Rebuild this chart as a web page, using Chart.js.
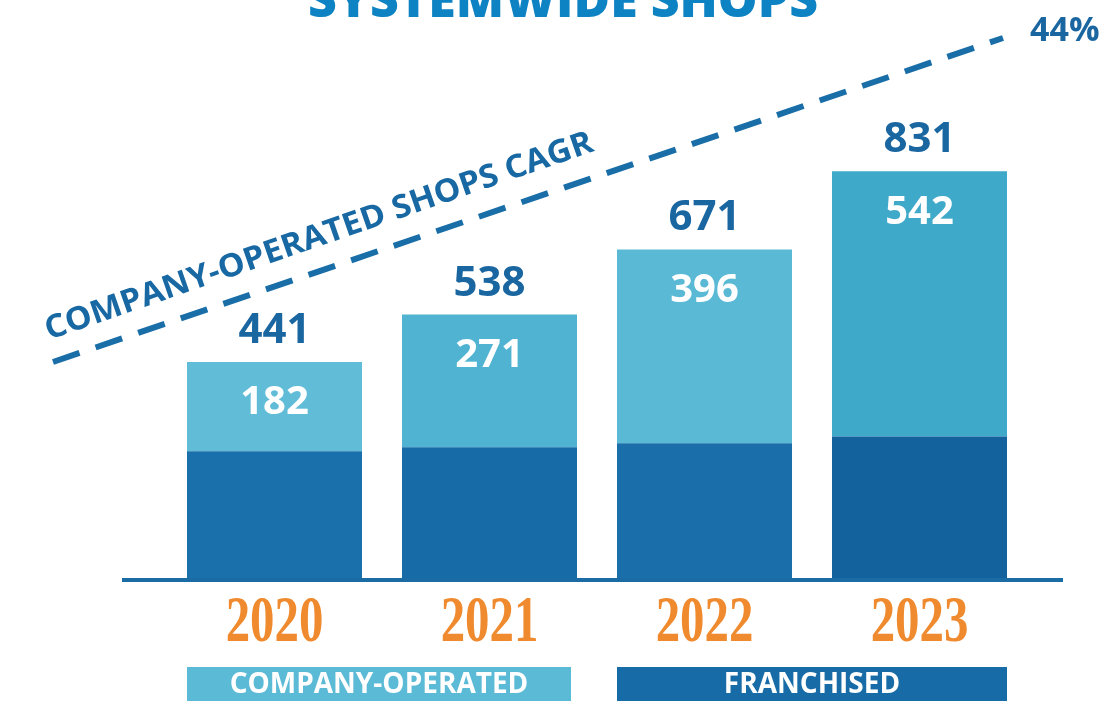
<!DOCTYPE html>
<html>
<head>
<meta charset="utf-8">
<script src="https://cdn.jsdelivr.net/npm/chart.js@4.4.0/dist/chart.umd.min.js"></script>
<style>
  html, body { margin: 0; padding: 0; background: #ffffff; }
  #shops { display: block; }
</style>
</head>
<body>
<canvas id="shops" width="1108" height="703"></canvas>
<script>
const years = ['2020', '2021', '2022', '2023'];
const companyOperated = [182, 271, 396, 542];
const franchised = [259, 267, 275, 289];
const cagrLabel = '44%';

const companyColors = ['#60bcd7', '#50b3d1', '#5ab9d5', '#3fa9c9'];
const franchisedColors = ['#1a70ab', '#176ca7', '#1a6fab', '#13629d'];
const navy = '#1a66a1';

// titles, labels, dashed CAGR line and the two legend boxes
const decorations = {
  id: 'decorations',
  afterDatasetsDraw(chart) {
    const ctx = chart.ctx;
    const area = chart.chartArea;
    const comp = chart.getDatasetMeta(1).data;
    const fran = chart.getDatasetMeta(0).data;

    ctx.save();

    // base line under the bars
    ctx.fillStyle = '#1b6ba5';
    ctx.fillRect(122, area.bottom, 941, 4);

    // title, cropped at the top edge
    ctx.fillStyle = '#0e83c3';
    ctx.font = '800 50px "Open Sans"';
    ctx.textAlign = 'center';
    ctx.textBaseline = 'alphabetic';
    ctx.fillText('SYSTEMWIDE SHOPS', 563, 17);

    comp.forEach((bar, i) => {
      const total = companyOperated[i] + franchised[i];
      ctx.textBaseline = 'middle';
      ctx.fillStyle = navy;
      ctx.font = '700 42px "Open Sans"';
      ctx.fillText(String(total), bar.x, bar.y - 31);
      ctx.fillStyle = '#ffffff';
      ctx.font = '700 40px "Open Sans"';
      ctx.fillText(String(companyOperated[i]), bar.x, bar.y + 41);

      // year labels, narrow serif
      ctx.save();
      ctx.translate(bar.x, 622);
      ctx.scale(0.74, 1);
      ctx.fillStyle = '#f08a2e';
      ctx.font = 'bold 66px "Liberation Serif"';
      ctx.textBaseline = 'middle';
      ctx.fillText(years[i], 0, 2);
      ctx.restore();
    });

    // legend boxes spanning pairs of bars
    const legend = [
      { label: 'COMPANY-OPERATED', color: '#5bbad6', from: 0, to: 1 },
      { label: 'FRANCHISED', color: '#176ca7', from: 2, to: 3 }
    ];
    legend.forEach(item => {
      const l = fran[item.from].x - fran[item.from].width / 2;
      const r = fran[item.to].x + fran[item.to].width / 2 - (item.from === 0 ? 6 : 0);
      ctx.fillStyle = item.color;
      ctx.fillRect(l, 667, r - l, 34);
      ctx.fillStyle = '#ffffff';
      ctx.font = '700 28px "Open Sans"';
      ctx.textBaseline = 'middle';
      ctx.fillText(item.label, (l + r) / 2, 685);
    });

    // dashed CAGR line
    const x0 = 53, y0 = 362, x1 = 1003, y1 = 38;
    ctx.strokeStyle = '#1a6ea8';
    ctx.lineWidth = 6;
    ctx.setLineDash([28, 17]);
    ctx.beginPath();
    ctx.moveTo(x0, y0);
    ctx.lineTo(x1, y1);
    ctx.stroke();
    ctx.setLineDash([]);

    // caption along the line
    const ang = Math.atan2(150 - 340, 597 - 49);
    ctx.save();
    ctx.translate(49, 340);
    ctx.rotate(ang);
    ctx.font = '700 32px "Open Sans"';
    ctx.textAlign = 'left';
    ctx.textBaseline = 'alphabetic';
    const caption = 'COMPANY-OPERATED SHOPS CAGR';
    const w = ctx.measureText(caption).width;
    ctx.scale(578 / w, 1);
    ctx.fillStyle = '#1768a3';
    ctx.fillText(caption, 0, 0);
    ctx.restore();

    ctx.fillStyle = navy;
    ctx.font = '700 34px "Open Sans"';
    ctx.textAlign = 'left';
    ctx.textBaseline = 'alphabetic';
    ctx.fillText(cagrLabel, 1030, 41);

    ctx.restore();
  }
};

new Chart(document.getElementById('shops'), {
  type: 'bar',
  data: {
    labels: years,
    datasets: [
      {
        label: 'Franchised',
        data: franchised,
        backgroundColor: franchisedColors,
        borderWidth: 0
      },
      {
        label: 'Company-operated',
        data: companyOperated,
        backgroundColor: companyColors,
        borderWidth: 0
      }
    ]
  },
  options: {
    responsive: false,
    animation: false,
    events: [],
    layout: { padding: { left: 167, right: 81, top: 60, bottom: 125 } },
    datasets: { bar: { barPercentage: 1, categoryPercentage: 0.814 } },
    plugins: {
      legend: { display: false },
      title: { display: false },
      tooltip: { enabled: false }
    },
    scales: {
      x: { stacked: true, display: false },
      y: { stacked: true, display: false, min: 0, max: 1058 }
    }
  },
  plugins: [decorations]
});
</script>
</body>
</html>
